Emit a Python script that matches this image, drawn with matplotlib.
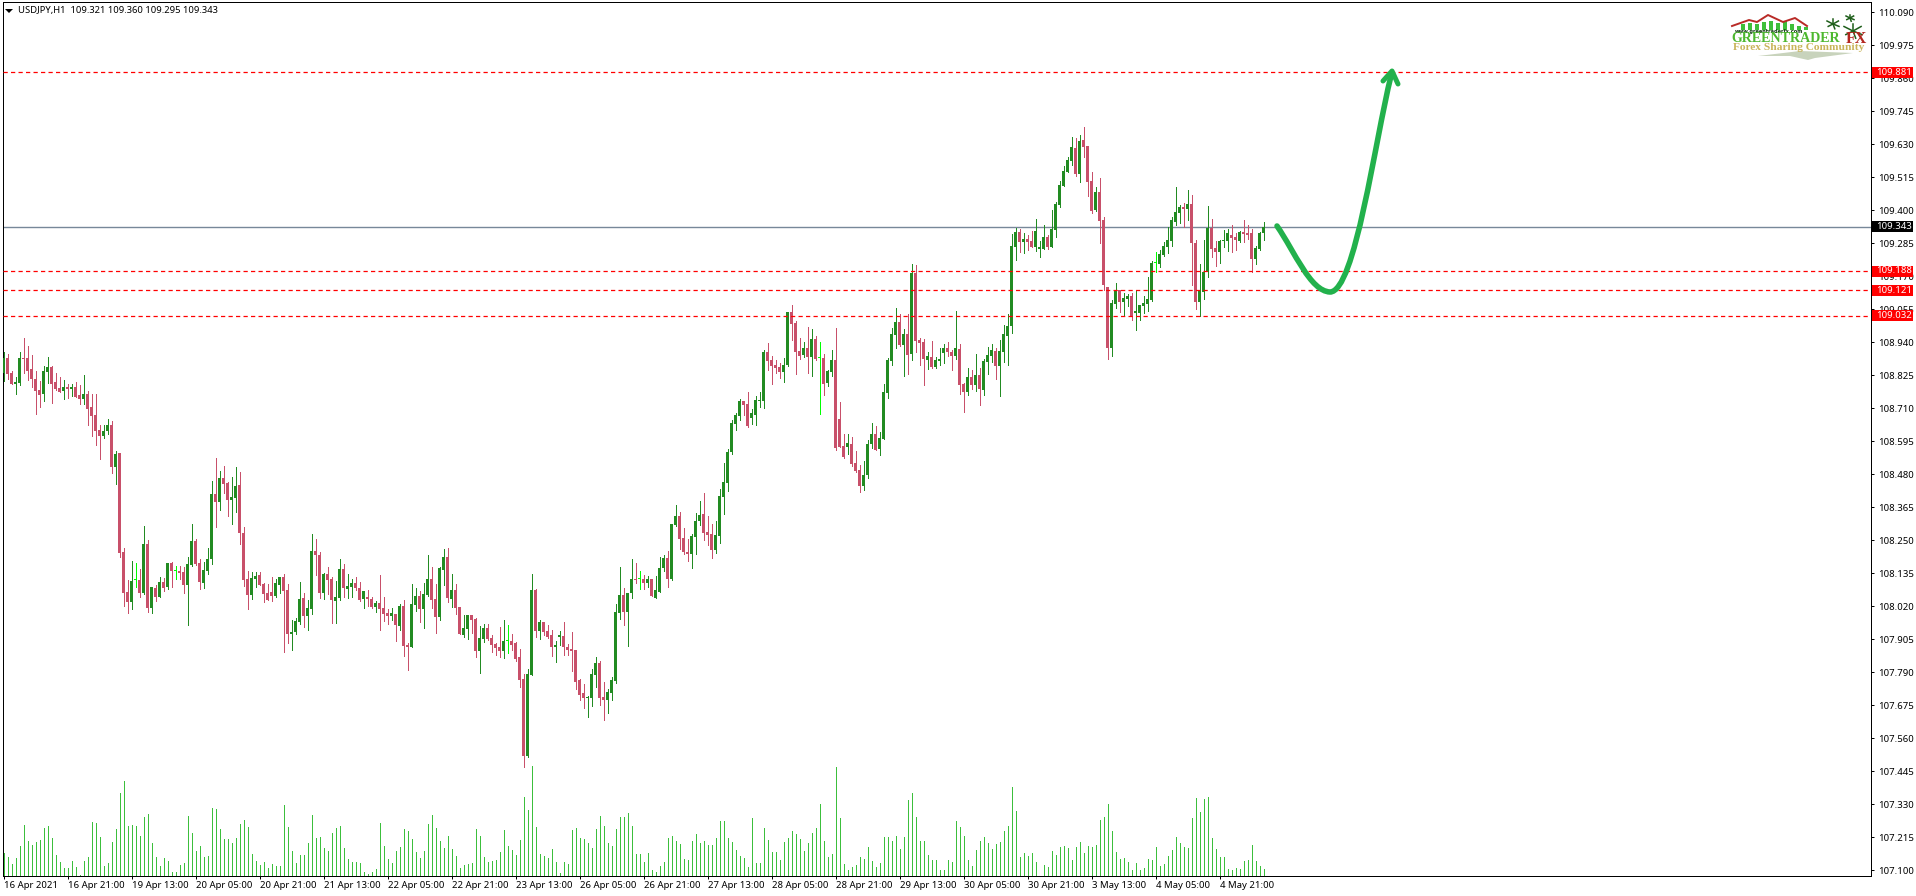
import numpy as np
import matplotlib
matplotlib.use("Agg")
import matplotlib.pyplot as plt
from matplotlib.path import Path
from matplotlib.patches import PathPatch, Polygon, Rectangle

opens = [
108.834,108.884,108.832,108.796,108.800,108.886,108.884,108.846,108.811,108.774,
108.761,108.838,108.854,108.802,108.780,108.772,108.783,108.779,108.783,108.756,
108.744,108.760,108.714,108.686,108.634,108.612,108.632,108.651,108.504,108.553,
108.208,108.069,108.037,108.111,108.111,108.068,108.236,108.016,108.083,108.051,
108.104,108.089,108.170,108.142,108.142,108.139,108.096,108.164,108.247,108.170,
108.103,108.145,108.184,108.411,108.385,108.466,108.449,108.392,108.399,108.442,
108.275,108.114,108.061,108.117,108.128,108.097,108.066,108.071,108.057,108.095,
108.123,108.077,107.924,107.931,107.966,108.050,107.987,108.011,108.212,108.198,
108.067,108.133,108.116,108.039,108.050,108.151,108.081,108.088,108.102,108.084,
108.046,108.053,108.046,108.018,108.032,108.015,107.997,107.987,107.994,107.952,
108.022,107.886,107.879,108.025,108.057,108.010,108.058,108.115,108.045,107.983,
108.146,108.192,108.045,108.077,108.017,107.920,107.941,107.990,107.976,107.864,
107.906,107.944,107.909,107.889,107.878,107.864,107.898,107.899,107.892,107.843,
107.767,107.498,107.781,108.077,107.934,107.965,107.934,107.920,107.878,107.913,
107.916,107.878,107.871,107.868,107.763,107.718,107.702,107.700,107.781,107.822,
107.704,107.693,107.718,107.760,107.997,108.059,108.000,108.066,108.115,108.114,
108.115,108.101,108.115,108.049,108.070,108.153,108.188,108.115,108.303,108.335,
108.258,108.209,108.202,108.261,108.317,108.341,108.279,108.272,108.216,108.265,
108.401,108.449,108.558,108.655,108.683,108.735,108.725,108.676,108.687,108.737,
108.735,108.906,108.878,108.861,108.854,108.836,108.861,109.046,109.007,108.910,
108.896,108.920,108.889,108.951,108.884,108.885,108.798,108.836,108.878,108.673,
108.579,108.576,108.586,108.520,108.495,108.440,108.478,108.586,108.621,108.569,
108.603,108.764,108.875,108.966,109.011,108.931,108.969,108.900,109.182,108.948,
108.941,108.879,108.889,108.854,108.875,108.903,108.921,108.907,108.893,108.917,
108.795,108.767,108.820,108.792,108.826,108.774,108.872,108.893,108.910,108.858,
108.907,108.962,108.997,109.273,109.325,109.290,109.300,109.293,109.273,109.266,
109.266,109.307,109.273,109.332,109.419,109.485,109.534,109.572,109.617,109.527,
109.645,109.624,109.502,109.401,109.464,109.367,109.133,108.921,109.074,109.123,
109.081,109.091,109.102,109.043,109.043,109.067,109.074,109.088,109.216,109.213,
109.245,109.273,109.293,109.360,109.391,109.412,109.405,109.422,109.286,109.081,
109.116,109.185,109.339,109.269,109.255,109.293,109.293,109.314,109.307,109.293,
109.325,109.320,109.321,109.231,109.266,109.321]

highs = [
108.905,108.900,108.840,108.821,108.905,108.954,108.926,108.895,108.840,108.805,
108.857,108.888,108.857,108.832,108.818,108.808,108.794,108.794,108.801,108.790,
108.825,108.771,108.760,108.760,108.651,108.651,108.672,108.665,108.560,108.553,
108.222,108.111,108.177,108.170,108.149,108.299,108.250,108.087,108.094,108.121,
108.118,108.170,108.174,108.160,108.160,108.156,108.191,108.306,108.254,108.184,
108.174,108.222,108.456,108.536,108.491,108.508,108.452,108.470,108.505,108.487,
108.296,108.142,108.139,108.139,108.139,108.100,108.097,108.123,108.116,108.123,
108.133,108.098,107.973,107.980,108.105,108.067,108.043,108.271,108.254,108.208,
108.135,108.158,108.123,108.109,108.184,108.167,108.133,108.116,108.123,108.105,
108.074,108.077,108.053,108.039,108.130,108.053,108.011,108.015,107.994,108.029,
108.043,107.893,108.098,108.084,108.074,108.101,108.199,108.157,108.098,108.157,
108.220,108.223,108.132,108.098,108.017,107.990,107.990,107.990,107.979,107.951,
107.958,107.958,107.920,107.892,107.948,107.972,107.955,107.923,107.896,107.871,
107.784,107.801,108.132,108.080,107.972,107.965,107.955,107.937,107.899,107.934,
107.965,107.889,107.930,107.868,107.767,107.749,107.707,107.801,107.843,107.829,
107.756,107.732,107.774,108.028,108.157,108.084,108.066,108.185,108.171,108.143,
108.129,108.125,108.115,108.125,108.192,108.199,108.213,108.307,108.373,108.348,
108.293,108.254,108.272,108.345,108.387,108.415,108.335,108.307,108.317,108.429,
108.519,108.568,108.669,108.694,108.742,108.735,108.767,108.708,108.753,108.767,
108.913,108.937,108.892,108.878,108.868,108.885,109.046,109.070,109.014,108.955,
108.941,108.993,108.986,108.962,108.941,108.899,108.843,108.913,108.990,108.732,
108.621,108.621,108.610,108.562,108.513,108.527,108.600,108.659,108.649,108.628,
108.795,108.886,108.990,109.060,109.039,108.987,109.039,109.213,109.210,108.955,
108.952,108.907,108.945,108.889,108.921,108.934,108.941,108.914,109.049,108.934,
108.799,108.851,108.844,108.900,108.851,108.882,108.924,108.934,108.921,108.948,
109.001,109.039,109.318,109.339,109.335,109.321,109.314,109.328,109.370,109.293,
109.349,109.314,109.401,109.429,109.502,109.555,109.586,109.656,109.652,109.663,
109.691,109.624,109.534,109.482,109.513,109.377,109.133,109.088,109.147,109.123,
109.112,109.109,109.112,109.119,109.070,109.102,109.168,109.224,109.255,109.262,
109.290,109.342,109.377,109.482,109.419,109.426,109.471,109.454,109.297,109.213,
109.297,109.415,109.370,109.293,109.297,109.332,109.335,109.349,109.321,109.328,
109.367,109.349,109.335,109.276,109.325,109.360]

lows = [
108.807,108.814,108.796,108.761,108.793,108.834,108.810,108.786,108.692,108.716,
108.737,108.800,108.730,108.775,108.768,108.744,108.747,108.754,108.750,108.726,
108.726,108.653,108.612,108.584,108.535,108.605,108.622,108.486,108.448,108.193,
108.023,107.998,108.012,108.087,108.051,108.062,108.002,107.998,108.040,108.051,
108.075,108.082,108.089,108.117,108.117,108.068,107.955,108.161,108.163,108.082,
108.085,108.134,108.169,108.298,108.356,108.416,108.336,108.308,108.350,108.239,
108.092,108.012,108.047,108.089,108.096,108.037,108.044,108.039,108.053,108.067,
107.861,107.893,107.868,107.924,107.959,107.949,107.938,107.994,108.131,108.050,
108.046,108.064,107.962,107.962,108.043,108.053,108.050,108.053,108.077,108.039,
108.015,108.022,108.015,108.001,107.938,107.969,107.959,107.973,107.900,107.938,
107.848,107.799,107.879,108.004,107.966,107.944,108.056,108.014,107.927,107.972,
108.094,108.035,108.017,107.993,107.923,107.913,107.906,107.927,107.843,107.787,
107.896,107.902,107.861,107.850,107.843,107.840,107.857,107.868,107.829,107.739,
107.460,107.495,107.781,107.913,107.906,107.920,107.909,107.847,107.826,107.885,
107.850,107.850,107.794,107.732,107.693,107.666,107.634,107.673,107.739,107.676,
107.624,107.648,107.693,107.753,107.976,107.955,107.882,108.049,108.101,108.080,
108.080,108.087,108.056,108.049,108.070,108.143,108.087,108.112,108.300,108.220,
108.202,108.178,108.153,108.202,108.303,108.251,108.233,108.188,108.206,108.240,
108.341,108.422,108.551,108.634,108.669,108.687,108.645,108.655,108.652,108.715,
108.711,108.843,108.795,108.833,108.816,108.802,108.857,108.948,108.829,108.882,
108.889,108.833,108.823,108.878,108.690,108.756,108.788,108.823,108.565,108.575,
108.537,108.551,108.509,108.488,108.419,108.426,108.468,108.572,108.565,108.548,
108.603,108.746,108.861,108.921,108.928,108.823,108.830,108.879,108.907,108.861,
108.792,108.847,108.851,108.851,108.861,108.868,108.893,108.844,108.882,108.760,
108.698,108.757,108.778,108.771,108.722,108.757,108.830,108.872,108.813,108.753,
108.872,108.861,108.973,109.227,109.255,109.252,109.262,109.273,109.259,109.238,
109.266,109.266,109.273,109.307,109.412,109.485,109.534,109.558,109.520,109.499,
109.586,109.450,109.391,109.398,109.286,109.123,108.882,108.893,109.060,109.046,
109.036,109.067,109.018,108.983,109.018,109.043,109.050,109.084,109.185,109.203,
109.241,109.252,109.276,109.349,109.356,109.342,109.367,109.140,109.056,109.032,
109.091,109.168,109.238,109.206,109.217,109.273,109.259,109.255,109.262,109.290,
109.290,109.300,109.185,109.213,109.262,109.295]

closes = [
108.884,108.831,108.796,108.802,108.884,108.882,108.841,108.814,108.772,108.758,
108.840,108.854,108.796,108.778,108.768,108.783,108.779,108.783,108.751,108.744,
108.759,108.709,108.685,108.632,108.612,108.630,108.651,108.504,108.550,108.207,
108.068,108.037,108.107,108.111,108.068,108.236,108.016,108.087,108.051,108.104,
108.085,108.170,108.145,108.142,108.138,108.096,108.167,108.247,108.167,108.106,
108.146,108.184,108.411,108.385,108.466,108.448,108.392,108.400,108.438,108.274,
108.113,108.061,108.118,108.125,108.096,108.064,108.044,108.057,108.102,108.123,
108.074,107.924,107.931,107.969,108.046,107.987,108.015,108.212,108.200,108.067,
108.132,108.112,108.043,108.053,108.151,108.084,108.091,108.102,108.084,108.043,
108.074,108.046,108.018,108.032,108.011,107.994,107.987,107.997,107.956,108.022,
107.882,107.879,108.029,108.057,108.011,108.063,108.115,108.042,107.983,108.153,
108.192,108.049,108.077,108.014,107.923,107.944,107.990,107.972,107.864,107.909,
107.944,107.906,107.885,107.875,107.864,107.899,107.898,107.885,107.836,107.763,
107.498,107.784,108.077,107.934,107.965,107.930,107.913,107.878,107.885,107.920,
107.878,107.868,107.864,107.756,107.711,107.700,107.705,107.784,107.822,107.700,
107.693,107.721,107.763,108.000,108.059,108.000,108.066,108.115,108.112,108.114,
108.101,108.115,108.056,108.077,108.153,108.188,108.115,108.307,108.335,108.254,
108.209,108.202,108.265,108.317,108.338,108.275,108.268,108.216,108.268,108.404,
108.453,108.558,108.659,108.687,108.735,108.721,108.648,108.694,108.739,108.739,
108.906,108.875,108.857,108.850,108.836,108.861,109.046,109.004,108.906,108.892,
108.920,108.889,108.951,108.882,108.884,108.795,108.840,108.878,108.572,108.577,
108.541,108.590,108.516,108.492,108.440,108.478,108.586,108.621,108.565,108.607,
108.767,108.879,108.969,109.011,108.931,108.969,108.896,109.182,108.945,108.938,
108.882,108.893,108.854,108.879,108.882,108.921,108.907,108.893,108.921,108.792,
108.767,108.820,108.792,108.826,108.778,108.875,108.896,108.914,108.858,108.910,
108.969,108.997,109.276,109.325,109.290,109.300,109.290,109.273,109.328,109.273,
109.307,109.273,109.335,109.422,109.489,109.537,109.576,109.621,109.527,109.642,
109.621,109.499,109.398,109.464,109.363,109.140,108.921,109.077,109.123,109.081,
109.095,109.102,109.032,109.050,109.070,109.077,109.091,109.217,109.216,109.248,
109.276,109.297,109.367,109.394,109.412,109.405,109.422,109.286,109.081,109.119,
109.185,109.339,109.266,109.255,109.293,109.297,109.321,109.304,109.297,109.325,
109.318,109.315,109.231,109.269,109.321,109.343]

volumes = [
69,57,36,54,90,153,105,93,102,108,144,150,114,63,42,24,24,45,27,3,
45,57,162,159,117,30,39,102,141,249,285,150,153,150,120,177,186,99,57,30,
54,45,12,12,33,39,180,129,75,90,57,60,204,201,141,111,111,99,114,156,
168,147,66,45,33,42,24,36,30,30,213,147,75,39,63,63,99,183,114,117,
84,75,129,144,150,84,51,42,42,39,12,6,12,21,159,90,51,39,75,87,
141,135,111,72,54,73,154,181,142,103,82,118,79,58,22,31,34,37,139,118,
55,40,43,46,70,136,88,76,61,106,235,196,328,145,64,58,52,79,40,7,
40,34,136,142,112,109,97,82,139,178,148,97,88,139,175,175,187,148,64,64,
40,67,16,10,28,40,112,118,103,94,49,46,103,124,97,103,91,91,112,163,
163,112,100,76,58,52,25,172,37,37,142,106,70,70,46,100,112,133,124,109,
73,97,127,142,214,103,55,64,325,172,34,16,25,31,55,49,85,43,25,37,
115,115,103,118,79,115,226,247,175,103,103,61,46,46,16,16,46,40,163,145,
118,46,28,76,103,115,97,79,94,100,133,148,265,193,55,67,58,67,40,0,
31,25,73,61,85,88,82,46,85,100,67,88,85,91,166,175,214,133,70,49,
52,40,16,37,16,22,49,46,85,28,34,58,76,115,97,85,82,172,232,190,
229,235,112,79,55,55,19,16,22,19,43,46,91,43,28,19]

price_ticks = [110.090, 109.975, 109.860, 109.745, 109.630, 109.515, 109.400, 109.285, 109.170,
               109.055, 108.940, 108.825, 108.710, 108.595, 108.480, 108.365, 108.250, 108.135,
               108.020, 107.905, 107.790, 107.675, 107.560, 107.445, 107.330, 107.215, 107.100]
time_labels = ["16 Apr 2021", "16 Apr 21:00", "19 Apr 13:00", "20 Apr 05:00", "20 Apr 21:00",
               "21 Apr 13:00", "22 Apr 05:00", "22 Apr 21:00", "23 Apr 13:00", "26 Apr 05:00",
               "26 Apr 21:00", "27 Apr 13:00", "28 Apr 05:00", "28 Apr 21:00", "29 Apr 13:00",
               "30 Apr 05:00", "30 Apr 21:00", "3 May 13:00", "4 May 05:00", "4 May 21:00"]
levels = [109.881, 109.188, 109.121, 109.032]
last_price = 109.343
title = "USDJPY,H1  109.321 109.360 109.295 109.343"

W, H = 1916, 896
L_PX, R_PX, T_PX, B_PX = 2.5, 1870.5, 2.5, 875.5
FONT = "Noto Sans"
FS = 6.9
BULL, BEAR, DOJI, VOL = "#228B22", "#C8506A", "#00FF00", "#3CBF3C"
ARROW = "#22B14C"


def bar_x(px):
    return (px - 3.5) / 4


def price_y(py):
    return 110.09 - (py - 12.3) / 287


fig = plt.figure(figsize=(W / 100, H / 100), dpi=100, facecolor="white")
ax = fig.add_axes([L_PX / W, 1 - B_PX / H, (R_PX - L_PX) / W, (B_PX - T_PX) / H])
ax.set_xlim(bar_x(L_PX), bar_x(R_PX))
ax.set_ylim(price_y(B_PX), price_y(T_PX))
for s in ax.spines.values():
    s.set_linewidth(0.72)
    s.set_color("black")
ax.patch.set_alpha(0)
ax.set_zorder(2)

o, h, l, c = map(np.array, (opens, highs, lows, closes))
n = np.arange(len(o))

# tick volume, on its own scale under the candles
vax = fig.add_axes(ax.get_position(), zorder=1)
vax.set_xlim(ax.get_xlim())
vax.set_ylim(0, (B_PX - T_PX) * 3)
vax.axis("off")
vax.vlines(n, 0, volumes, colors=VOL, linewidth=0.72, antialiased=False)

# candles
colors = np.where(c > o, BULL, np.where(c < o, BEAR, DOJI))
ax.vlines(n, l, h, colors=colors, linewidth=0.72, antialiased=False, zorder=3)
body_bottom = np.minimum(o, c)
body_height = np.maximum(np.abs(c - o), 0.0035)
ax.bar(n, body_height, bottom=body_bottom, width=0.75, color=colors, linewidth=0,
       antialiased=False, zorder=4)

# horizontal levels
for lv in levels:
    ax.axhline(lv, color="#FF0000", lw=0.9, dashes=(3.4, 2.6), zorder=5)
ax.axhline(last_price, color="#778899", lw=1.0, zorder=2.5)

# axes ticks
ax.yaxis.tick_right()
ax.set_yticks(price_ticks)
ax.set_yticklabels([f"{p:.3f}" for p in price_ticks], fontsize=FS, family=FONT, color="black")
ax.tick_params(axis="y", length=2.5, width=0.72, pad=3.2)
ticks_x = n[::16][:len(time_labels)]
ax.set_xticks(ticks_x)
ax.set_xticklabels(time_labels, fontsize=FS, family=FONT, ha="left", color="black")
ax.tick_params(axis="x", length=2.5, width=0.72, pad=1.5)

# overlay in pixel coordinates for the terminal's furniture
ov = fig.add_axes([0, 0, 1, 1], zorder=6)
ov.set_xlim(0, W)
ov.set_ylim(H, 0)
ov.axis("off")


def py(price):
    return 12.3 + (110.09 - price) * 287


for lv, fc in [(last_price, "black")] + [(lv, "#FF0000") for lv in levels]:
    ov.add_patch(Rectangle((1872, py(lv) - 5.5), 41, 11, fc=fc, ec="none", zorder=3))
    ov.text(1876, py(lv) - 0.2, f"{lv:.3f}", color="white", fontsize=FS, family=FONT,
            va="center", ha="left", zorder=4)

ov.add_patch(Polygon([(5, 9), (13, 9), (9, 13)], fc="black", ec="none"))
ov.text(18, 10.5, title, fontsize=6.8, family=FONT, va="center", ha="left", color="black")

# forecast arrow (drawn on the price axes)
curve_px = [(1277, 226), (1295, 252), (1310, 291), (1330, 292),
            (1355, 292), (1375, 140), (1391, 76)]
codes = [Path.MOVETO] + [Path.CURVE4] * 6
verts = [(bar_x(x), price_y(y)) for x, y in curve_px]
ax.add_patch(PathPatch(Path(verts, codes), fc="none", ec=ARROW, lw=4.0, capstyle="round",
                       zorder=6))
head_px = [(1383, 81), (1392, 71), (1398, 84)]
ax.plot([bar_x(x) for x, _ in head_px], [price_y(y) for _, y in head_px], color=ARROW, lw=3.6,
        solid_capstyle="round", solid_joinstyle="round", zorder=6)

# logo
roof = [(1732, 26), (1749, 20), (1757, 22), (1768, 15), (1783, 22), (1795, 18), (1807, 26)]
ov.plot(*zip(*roof), color="#B92B27", lw=1.4)
for x, top in zip(range(1741, 1806, 7), [24, 23, 24, 22, 21, 23, 21, 24, 26, 27]):
    ov.add_patch(Rectangle((x, top), 4, 30 - top, fc="#3FBF3A", ec="none"))
ov.text(1769, 31, "www.greentraderfx.com", fontsize=3.6, family="DejaVu Sans", weight="bold",
        ha="center", va="center", color="#123D12")
ov.text(1731, 39, "GREENTRADER", fontsize=10.1, family="Liberation Serif", weight="bold",
        ha="left", va="center", color="#4DB82F")
ov.text(1846, 39, "FX", fontsize=11.5, family="Liberation Serif", weight="bold",
        ha="left", va="center", color="#B3261E")
ov.text(1733, 48, "Forex Sharing Community", fontsize=8.2, family="Liberation Serif", weight="bold",
        ha="left", va="center", color="#C9B45A")
ov.add_patch(Polygon([(1758, 56), (1800, 51), (1853, 53), (1815, 58), (1808, 60), (1790, 56)],
                     fc="#C8D3BC", ec="none"))
for cx, cy, s in [(1853, 31, 9), (1833, 24, 6), (1850, 18, 4)]:
    for dx, dy in [(-1, -0.5), (-0.8, 0.4), (0.9, -0.5), (1, 0.4), (0, -0.8), (0.3, 0.8)]:
        ov.plot([cx, cx + dx * s], [cy, cy + dy * s], color="#1E5E1A", lw=1.1)

fig.savefig("out.png", dpi=100, facecolor="white")
